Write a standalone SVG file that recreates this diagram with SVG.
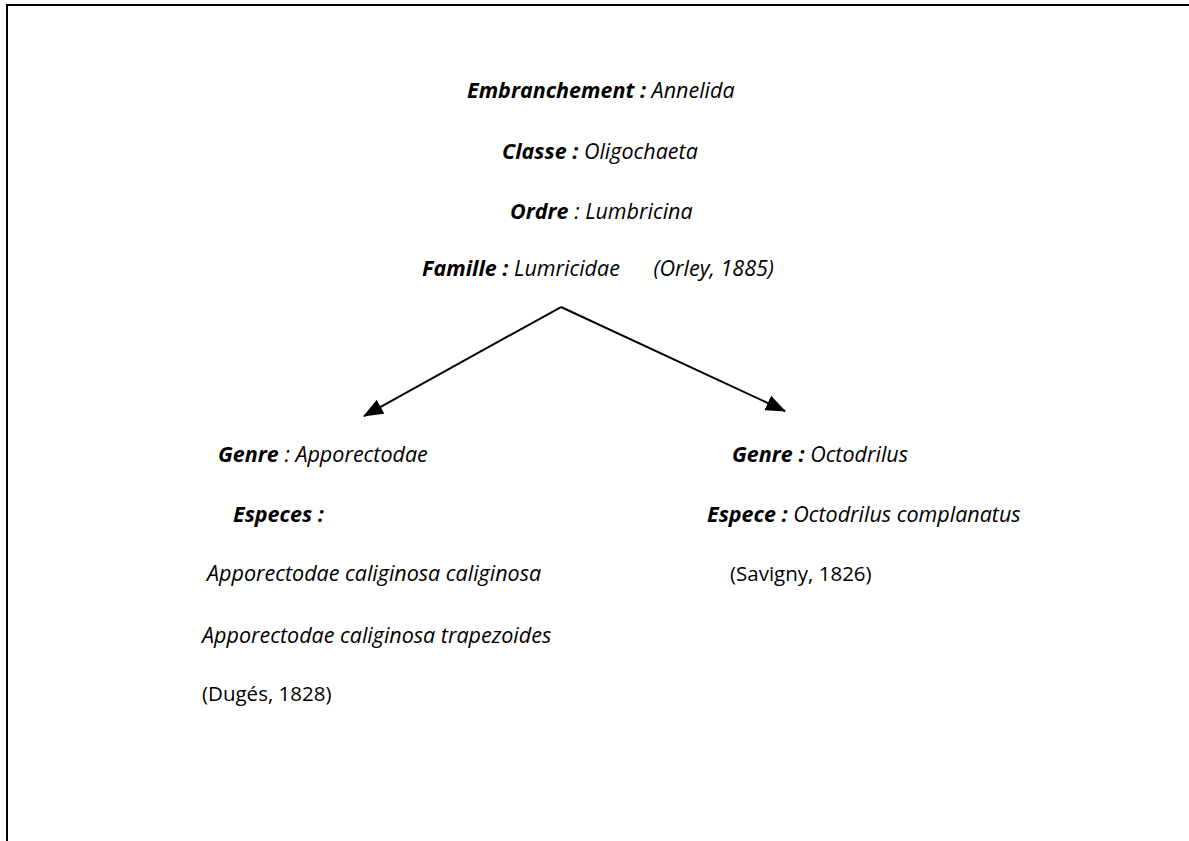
<svg xmlns="http://www.w3.org/2000/svg" width="1189" height="841" viewBox="0 0 1189 841">
<style>
text{font-family:"Open Sans",Lato,"Liberation Sans",sans-serif;font-size:20.5px;fill:#000}
.i{font-style:italic;font-size:21.5px}
.b{font-weight:bold}
.conn{stroke:#000;stroke-width:2;fill:none}
</style>
<defs>
<marker id="arr" viewBox="0 0 20 16" refX="19" refY="8" markerWidth="20" markerHeight="16" orient="auto" markerUnits="userSpaceOnUse">
<path d="M0,0 L20,8 L0,16 z" fill="#000"/>
</marker>
</defs>
<rect width="1189" height="841" fill="#fff"/>
<g id="frame">
<line x1="6" y1="5" x2="1189" y2="5" stroke="#000" stroke-width="2"/>
<line x1="7" y1="4" x2="7" y2="841" stroke="#000" stroke-width="2"/>
</g>
<g id="taxonomy">
<text class="i" x="467" y="98"><tspan class="b">Embranchement :</tspan> Annelida</text>
<text class="i" x="502" y="159"><tspan class="b">Classe :</tspan> Oligochaeta</text>
<text class="i" x="510" y="219"><tspan class="b">Ordre</tspan> : Lumbricina</text>
<text class="i" x="422" y="276" xml:space="preserve"><tspan class="b">Famille :</tspan> Lumricidae      (Orley, 1885)</text>
</g>
<g id="genre-apporectodae">
<text class="i" x="218" y="462"><tspan class="b">Genre</tspan> : Apporectodae</text>
<text class="i b" x="233" y="522">Especes :</text>
<text class="i" x="207" y="581">Apporectodae caliginosa caliginosa</text>
<text class="i" x="202" y="643">Apporectodae caliginosa trapezoides</text>
<text x="202" y="701">(Dugés, 1828)</text>
</g>
<g id="genre-octodrilus">
<text class="i" x="732" y="462"><tspan class="b">Genre :</tspan> Octodrilus</text>
<text class="i" x="707" y="522"><tspan class="b">Espece :</tspan> Octodrilus complanatus</text>
<text x="730" y="581">(Savigny, 1826)</text>
</g>
<g id="connectors">
<line class="conn" x1="561" y1="307" x2="364" y2="416" marker-end="url(#arr)"/>
<line class="conn" x1="561" y1="307" x2="785" y2="411" marker-end="url(#arr)"/>
</g>
</svg>
